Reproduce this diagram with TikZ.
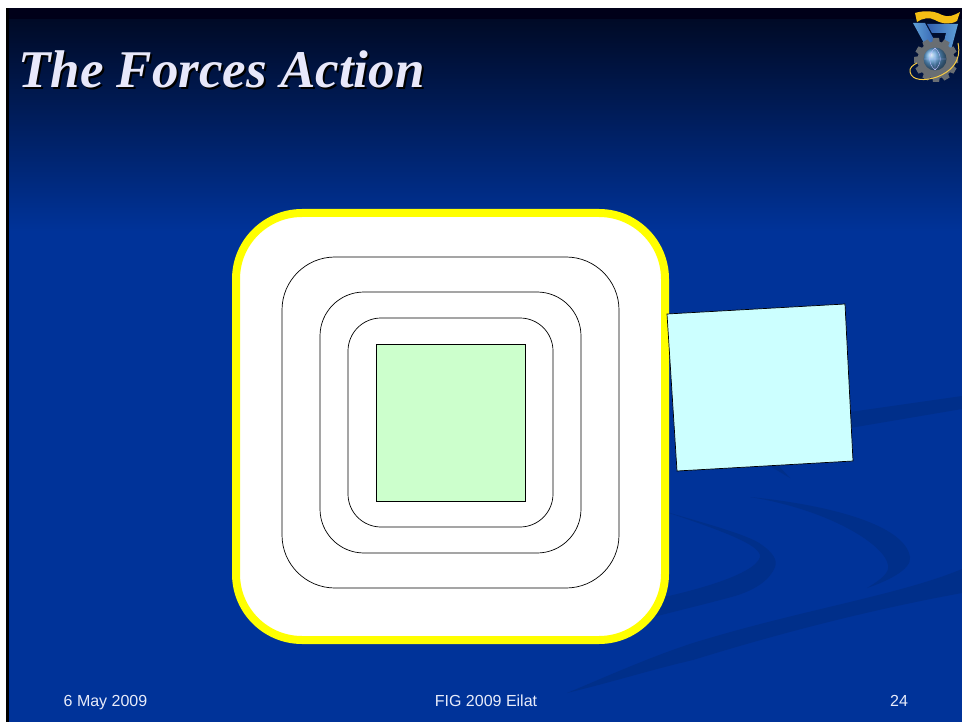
\documentclass[tikz,border=0pt]{standalone}
\usepackage{fontspec}
\setmainfont{Liberation Serif}
\newfontfamily\footfont{Liberation Sans}
\usetikzlibrary{calc}
\definecolor{slideblue}{RGB}{0,51,153}
\definecolor{slidetop}{RGB}{0,10,38}
\definecolor{swooshblue}{RGB}{0,47,138}
\definecolor{titlelilac}{RGB}{232,232,250}
\definecolor{footlilac}{RGB}{232,236,250}
\definecolor{panelgreen}{RGB}{204,255,204}
\definecolor{panelcyan}{RGB}{204,255,255}
\definecolor{rimyellow}{RGB}{255,255,0}
\definecolor{gearyellow}{RGB}{245,190,20}
\definecolor{geargray}{RGB}{105,110,115}
\definecolor{sevenblue}{RGB}{50,95,175}
\definecolor{sevenlight}{RGB}{95,160,215}
\begin{document}
\begin{tikzpicture}[x=1pt,y=-1pt,font=\footfont,
  ring/.style={draw=black,line width=0.7pt},
  footer/.style={font=\footfont\fontsize{16}{18}\selectfont,text=footlilac,inner sep=0pt,anchor=base},
  titletext/.style={font=\fontsize{53}{58}\selectfont\bfseries\itshape,inner sep=0pt,anchor=base west}]
\useasboundingbox (0,0) rectangle (962,722);
\fill[white] (0,0) rectangle (962,722);
% background
\fill[black] (6,8) rectangle (9,722);
\fill[slideblue] (9,230) rectangle (962,722);
\shade[top color=slidetop,bottom color=slideblue] (9,19) rectangle (962,231);
\fill[black!90!blue] (9,8) rectangle (962,19);
% swooshes
\fill[swooshblue] (962,569) .. controls (900,595) and (800,610) .. (693,643)
 .. controls (650,657) and (610,675) .. (567,693)
 .. controls (620,680) and (650,670) .. (693,660)
 .. controls (790,630) and (880,608) .. (962,593) -- cycle;
\fill[swooshblue] (750,497) .. controls (830,505) and (905,525) .. (910,557)
 .. controls (912,570) and (885,582) .. (867,588)
 .. controls (880,580) and (890,573) .. (888,565)
 .. controls (885,545) and (830,510) .. (750,497) -- cycle;
\fill[swooshblue] (660,510) .. controls (700,522) and (750,535) .. (762,545)
 .. controls (772,552) and (778,560) .. (775,567)
 .. controls (770,580) and (755,590) .. (735,596)
 .. controls (710,603) and (680,610) .. (650,618) -- (650,600)
 .. controls (690,592) and (755,575) .. (760,557)
 .. controls (762,545) and (720,530) .. (660,510) -- cycle;
\fill[swooshblue] (962,396) -- (962,409) -- (850,428) -- (850,412) -- cycle;
\fill[swooshblue] (768,465) -- (778,465) -- (790,478) -- cycle;
% title and logo
\node[titletext,text=black] (titleshade) at (20,90) {The Forces Action};
\node[titletext,text=titlelilac] (title) at (18,88) {The Forces Action};
\shade[left color=sevenblue,right color=sevenlight] (927,24) -- (958,24) -- (951,50) -- (942,50) -- (946,33) -- (932,33) -- cycle;
\shade[left color=sevenlight,right color=sevenblue] (913,23) -- (925,23) -- (937,45) -- (925,45) -- cycle;
\fill[gearyellow] (915,13) .. controls (925,10) and (935,11) .. (942,15)
 .. controls (948,18) and (955,15) .. (960,12) -- (957,21)
 .. controls (950,25) and (942,24) .. (935,20) .. controls (930,17) and (922,18) .. (917,22) -- cycle;
\foreach \a in {0,30,...,330}
  \fill[geargray,rotate around={\a:(936,60)}] (933,38) -- (939,38) -- (940,44) -- (932,44) -- cycle;
\fill[geargray] (936,60) circle (18.5);
\shade[ball color=sevenlight] (935,59) circle (11.5);
\draw[white!75!blue,line width=0.4pt] (924,59) -- (946,59) (935,48) -- (935,70)
 (935,48) .. controls (928,54) and (928,64) .. (935,70) (935,48) .. controls (942,54) and (942,64) .. (935,70);
\draw[gearyellow!80!white,line width=1pt] (958,43) .. controls (962,62) and (950,72) .. (937,77)
 .. controls (925,81) and (912,81) .. (910,72) .. controls (909,68) and (913,65) .. (917,63);
% main shape
\draw[rimyellow,fill=white,line width=8pt,rounded corners=66pt] (236,213) rectangle (665,640);
\draw[ring,rounded corners=53pt] (282,257) rectangle (619,588);
\draw[ring,rounded corners=44pt] (320,292) rectangle (581,553);
\draw[ring,rounded corners=33pt] (348,318) rectangle (553,527);
\draw[ring,fill=panelgreen] (376,344) rectangle (525,501);
\draw[ring,fill=panelcyan] (667,314) -- (845,304) -- (853,461) -- (677,471) -- cycle;
% footer
\node[footer] (date) at (105.5,706) {6 May 2009};
\node[footer] (event) at (486,706) {FIG 2009 Eilat};
\node[footer] (page) at (899,706) {24};
\end{tikzpicture}
\end{document}
